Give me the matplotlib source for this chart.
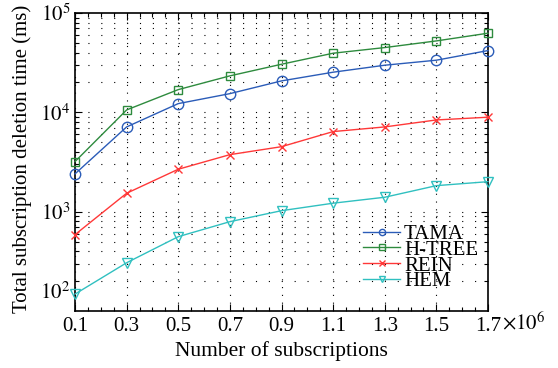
import matplotlib
matplotlib.use("Agg")
import matplotlib.pyplot as plt
import matplotlib.transforms as mtransforms
import numpy as np

plt.rcParams['font.family'] = ['Liberation Serif', 'DejaVu Serif']
plt.rcParams['mathtext.fontset'] = 'stix'

# subscriptions (x 10^6) and total deletion time in ms
subs = [0.1, 0.3, 0.5, 0.7, 0.9, 1.1, 1.3, 1.5, 1.7]
tama = [2400, 7130, 12240, 15420, 20720, 25350, 29800, 33480, 41860]
htree = [3190, 10570, 16930, 23280, 30480, 39370, 44870, 52350, 62600]
rein = [587, 1532, 2673, 3750, 4510, 6400, 7130, 8380, 8930]
hem = [148, 306, 560, 793, 1023, 1217, 1397, 1828, 2004]

names = ['TAMA', 'H-TREE', 'REIN', 'HEM']
colors = ['#2b5cb8', '#2e8b3e', '#ff3838', '#30c0c0']
markers = ['o', 's', 'x', 'v']
msizes = [7.5, 5.5, 5.5, 6.5]

fig = plt.figure(figsize=(5.58, 3.68), dpi=100)
ax = fig.add_axes([0.1344, 0.1549, 0.7402, 0.8098])

for ys, name, c, m, ms in zip([tama, htree, rein, hem], names, colors, markers, msizes):
    ax.plot(subs, ys, color=c, marker=m, ms=ms, mfc='none', mec=c, mew=1.0,
            lw=1.0, label=name, clip_on=False, zorder=3)

ax.set_yscale('log')
ax.set_xlim(0.1, 1.7)
ax.set_ylim(1e2, 1e5)

ax.set_xticks(subs)
ax.set_xticklabels([f'{v:.1f}' for v in subs])
ax.set_xticks(np.arange(0.1, 1.7001, 0.05), minor=True)
ax.set_yticks([1e3, 1e4, 1e5])
ax.set_yticklabels(['$10^{3}$', '$10^{4}$', '$10^{5}$'])

# dotted grid: horizontal lines give dots at every minor x step
dots = (0, (1, 10.6))
ax.grid(which='both', axis='y', ls=dots, lw=0.8, color='k')
ax.grid(which='major', axis='x', ls=(0, (1, 6)), lw=0.8, color='k')

ax.tick_params(which='both', direction='in', top=True, right=True,
               labelsize=15, width=0.8)
ax.tick_params(which='major', length=5)
ax.tick_params(which='minor', length=3)
ax.tick_params(axis='x', pad=4)
for s in ax.spines.values():
    s.set_linewidth(1.2)

# lowest decade label sits a little above the axis corner
lbl_tr = mtransforms.blended_transform_factory(ax.transAxes, ax.transData) + \
    mtransforms.ScaledTranslation(-0.05, 0.18, fig.dpi_scale_trans)
ax.text(0, 1e2, '$10^{2}$', transform=lbl_tr, ha='right', va='center', fontsize=15)

ax.text(1.035, -0.04, r'$\times10^{6}$', transform=ax.transAxes,
        ha='left', va='center', fontsize=15)

ax.set_xlabel('Number of subscriptions', fontsize=15.5, labelpad=4)
ax.set_ylabel('Total subscription deletion time (ms)', fontsize=15, labelpad=2)
ax.yaxis.set_label_coords(-0.105, 0.51)

leg = ax.legend(loc='lower left', bbox_to_anchor=(0.663, 0.017), frameon=False,
                fontsize=15, handlelength=1.75, handletextpad=0.2,
                labelspacing=-0.18, borderpad=0.2)
for h in leg.legend_handles:
    h.set_markersize(4.5)

fig.savefig('out.png', dpi=100)
